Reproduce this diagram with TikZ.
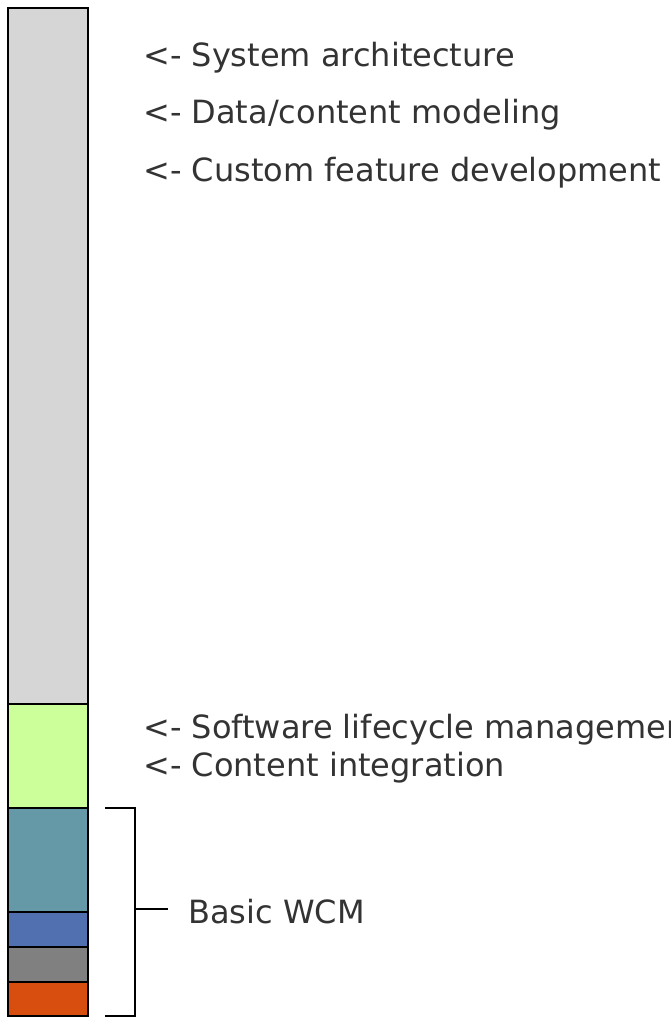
\documentclass[tikz,border=0pt]{standalone}
\usepackage{fontspec}
\setmainfont{DejaVu Sans}
\definecolor{txt}{HTML}{333333}
\definecolor{cgray}{HTML}{D6D6D6}
\definecolor{cgreen}{HTML}{CCFF99}
\definecolor{cteal}{HTML}{6699A8}
\definecolor{cblue}{HTML}{5070B0}
\definecolor{cdgray}{HTML}{808080}
\definecolor{corange}{HTML}{D84E0E}
\begin{document}
\begin{tikzpicture}[x=1pt,y=-1pt,
  seg/.style={draw=black,line width=1.6pt},
  lbl/.style={anchor=west,inner sep=0pt,text=txt,font=\fontsize{32}{38}\selectfont},
  brk/.style={draw=black,line width=2pt}]
\useasboundingbox (0,0) rectangle (671,1020);
\fill[white] (0,0) rectangle (671,1020);
\draw[seg,fill=cgray] (8,8) rectangle (88,704);
\draw[seg,fill=cgreen] (8,704) rectangle (88,808);
\draw[seg,fill=cteal] (8,808) rectangle (88,912);
\draw[seg,fill=cblue] (8,912) rectangle (88,947);
\draw[seg,fill=cdgray] (8,947) rectangle (88,982);
\draw[seg,fill=corange] (8,982) rectangle (88,1016);
\node[lbl] (l1) at (143,58) {<- System architecture};
\node[lbl] (l2) at (143,115) {<- Data/content modeling};
\node[lbl] (l3) at (143,173) {<- Custom feature development};
\node[lbl] (l4) at (143,730) {<- Software lifecycle management};
\node[lbl] (l5) at (143,768) {<- Content integration};
\coordinate (bt) at (105,808);
\coordinate (bb) at (105,1016);
\coordinate (bm) at (135,909);
\draw[brk] (bt) -- (135,808) -- (135,1016) -- (bb);
\draw[brk] (bm) -- (168,909);
\node[lbl] (wcm) at (188,912) {Basic WCM};
\end{tikzpicture}
\end{document}
